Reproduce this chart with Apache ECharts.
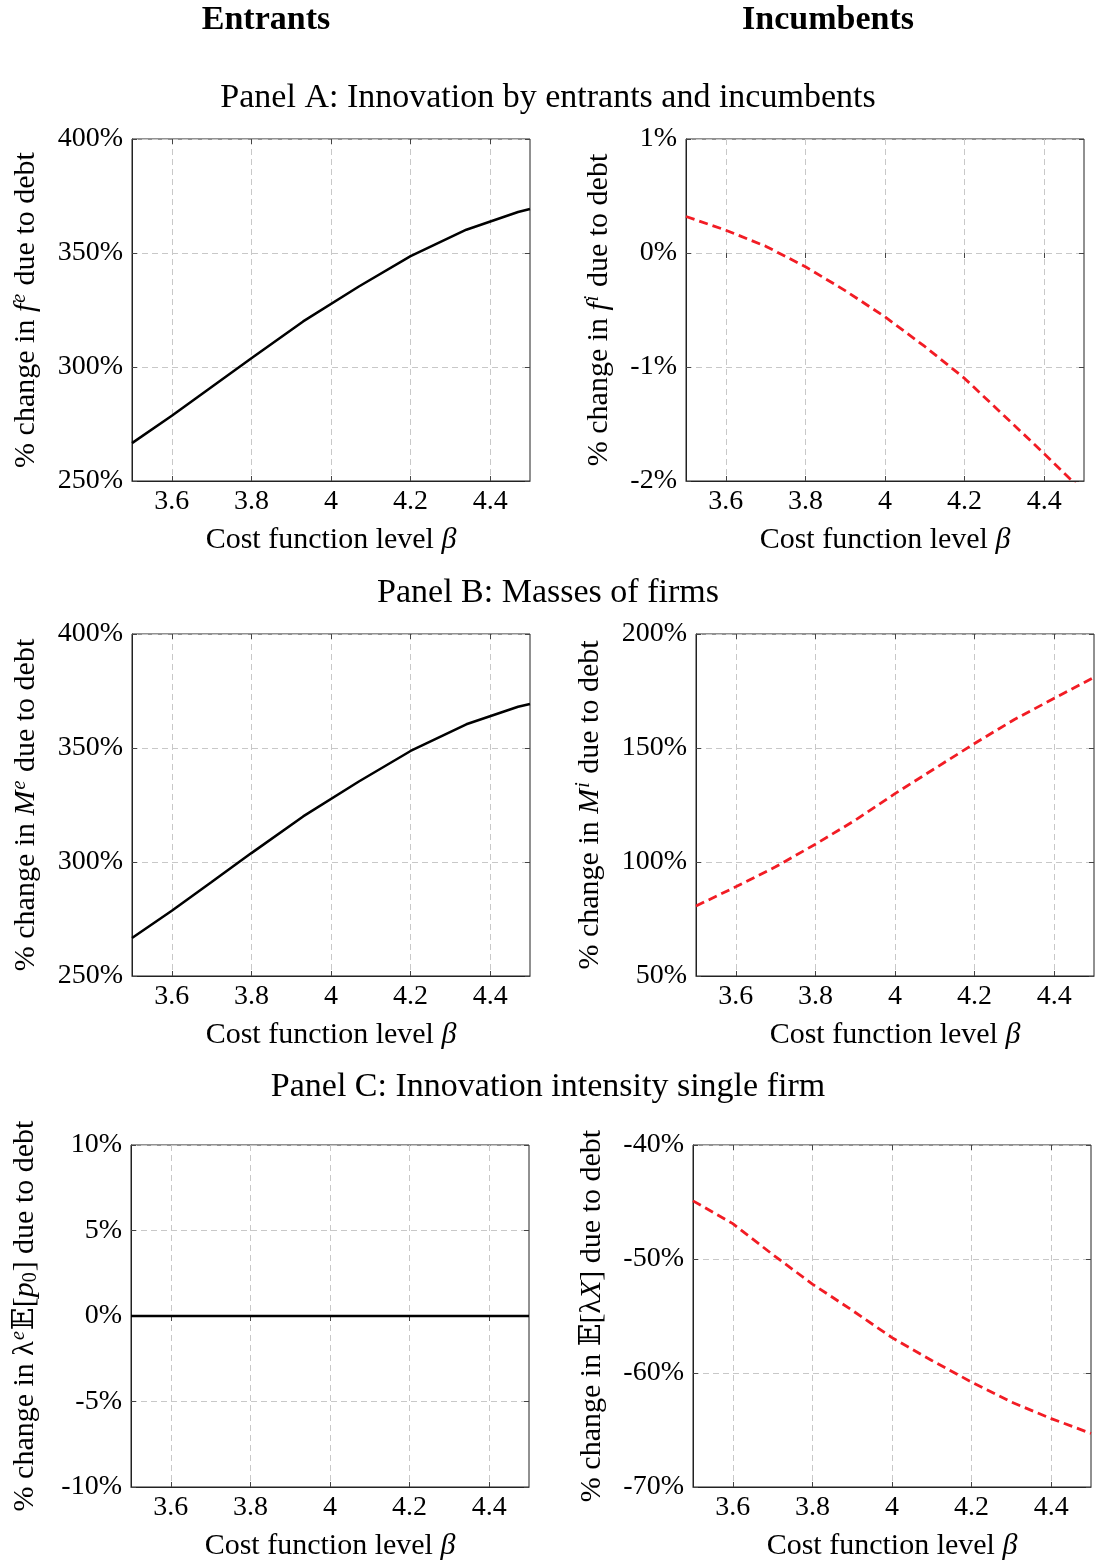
<!DOCTYPE html>
<html>
<head>
<meta charset="utf-8">
<script src="https://cdn.jsdelivr.net/npm/echarts@6/dist/echarts.min.js"></script>
<style>html,body{margin:0;padding:0;background:#fff;}#c{width:1095px;height:1562px;}</style>
</head>
<body>
<div id="c"></div>
<script>
// ---- data ----
const betaEntrants = [3.5, 3.6, 3.7, 3.8, 3.93, 4.07, 4.2, 4.34, 4.47, 4.5];
const fEntrants = [266.6, 278.6, 291.2, 303.8, 320.0, 335.3, 348.6, 360.2, 368.0, 369.3];
const mEntrants = [266.7, 278.6, 291.2, 303.9, 320.0, 335.3, 348.7, 360.4, 368.1, 369.3];
const betaIncumbents = [3.5, 3.6, 3.7, 3.8, 3.9, 4.0, 4.1, 4.2, 4.3, 4.4, 4.5];
const fIncumbents = [0.32, 0.20, 0.06, -0.12, -0.33, -0.56, -0.82, -1.10, -1.43, -1.76, -2.10];
const mIncumbents = [80.7, 89.1, 97.9, 107.8, 118.3, 130.0, 141.0, 152.0, 162.5, 171.8, 181.0];
const intensityEntrants = [0, 0, 0, 0, 0, 0, 0, 0, 0, 0, 0];
const intensityIncumbents = [-44.9, -46.9, -49.6, -52.2, -54.5, -56.9, -58.9, -60.8, -62.55, -64.0, -65.3];
const xTicks = [3.6, 3.8, 4, 4.2, 4.4];

const FONT = "'Liberation Serif', 'DejaVu Serif', serif";
const chart = echarts.init(document.getElementById('c'), null, {renderer: 'canvas'});

const NS = 30;
const richBase = {
  n: {fontFamily: FONT, fontSize: NS, color: '#000'},
  i: {fontFamily: FONT, fontSize: NS, fontStyle: 'italic', color: '#000'},
  s: {fontFamily: FONT, fontSize: 20, fontStyle: 'italic', color: '#000', verticalAlign: 'top', padding: [0, 1, 12, 1]},
  b: {fontFamily: FONT, fontSize: 20, color: '#000', verticalAlign: 'bottom', padding: [9, 1, 0, 0]}
};

const panels = [
  {rect: [132, 139], y: [250, 400, 50], name: '{n|% change in }{i|f}{s|e}{n| due to debt}', gap: 90, x: betaEntrants, v: fEntrants, red: false},
  {rect: [686, 139], y: [-2, 1, 1], name: '{n|% change in }{i|f}{s|i}{n| due to debt}', gap: 71, x: betaIncumbents, v: fIncumbents, red: true},
  {rect: [132, 634], y: [250, 400, 50], name: '{n|% change in }{i|M}{s|e}{n| due to debt}', gap: 90, x: betaEntrants, v: mEntrants, red: false},
  {rect: [696, 634], y: [50, 200, 50], name: '{n|% change in }{i|M}{s|i}{n| due to debt}', gap: 90, x: betaIncumbents, v: mIncumbents, red: true},
  {rect: [131, 1145], y: [-10, 10, 5], name: '{n|% change in λ}{s|e}{n|𝔼[}{i|p}{b|0}{n|] due to debt}', gap: 90, x: betaIncumbents, v: intensityEntrants, red: false},
  {rect: [693, 1145], y: [-70, -40, 10], name: '{n|% change in 𝔼[λ}{i|X}{n|] due to debt}', gap: 86, x: betaIncumbents, v: intensityIncumbents, red: true}
];

const W = 398, H = 342;
const grids = [], xAxes = [], yAxes = [], series = [];
const gridLine = {show: true, lineStyle: {color: '#c8c8c8', width: 1, type: [6, 4]}};

panels.forEach((p, k) => {
  grids.push({left: p.rect[0], top: p.rect[1], width: W, height: H, show: true, borderColor: '#222', borderWidth: 1, backgroundColor: 'transparent'});
  xAxes.push({
    type: 'value', gridIndex: k, min: 3.5, max: 4.5, position: 'bottom',
    name: '{n|Cost function level }{i|β}', nameLocation: 'middle', nameGap: 44,
    nameTextStyle: {rich: richBase},
    axisLine: {show: true, onZero: false, lineStyle: {color: '#222', width: 1}},
    axisTick: {show: true, inside: true, length: 5, customValues: xTicks, lineStyle: {color: '#444'}},
    axisLabel: {customValues: xTicks, fontFamily: FONT, fontSize: 28, color: '#000', margin: 7, formatter: v => String(v)},
    splitLine: gridLine
  });
  xAxes.push({
    type: 'value', gridIndex: k, min: 3.5, max: 4.5, position: 'top',
    axisLine: {show: false},
    axisTick: {show: true, inside: true, length: 5, customValues: xTicks, lineStyle: {color: '#444'}},
    axisLabel: {show: false}, splitLine: {show: false}
  });
  yAxes.push({
    type: 'value', gridIndex: k, min: p.y[0], max: p.y[1], interval: p.y[2], position: 'left',
    name: p.name, nameLocation: 'middle', nameGap: p.gap, nameRotate: 90,
    nameTextStyle: {rich: richBase},
    axisLine: {show: true, onZero: false, lineStyle: {color: '#222', width: 1}},
    axisTick: {show: true, inside: true, length: 5, lineStyle: {color: '#444'}},
    axisLabel: {fontFamily: FONT, fontSize: 28, color: '#000', margin: 9, formatter: v => v + '%'},
    splitLine: gridLine
  });
  yAxes.push({
    type: 'value', gridIndex: k, min: p.y[0], max: p.y[1], interval: p.y[2], position: 'right',
    axisLine: {show: false},
    axisTick: {show: true, inside: true, length: 5, lineStyle: {color: '#444'}},
    axisLabel: {show: false}, splitLine: {show: false}
  });
  series.push({
    type: 'line', xAxisIndex: 2 * k, yAxisIndex: 2 * k, showSymbol: false, symbol: 'none', clip: true,
    data: p.x.map((b, j) => [b, p.v[j]]),
    lineStyle: p.red ? {color: '#f21c24', width: 2.8, type: [9, 5]} : {color: '#000', width: 2.5},
    silent: true, animation: false
  });
});

const textStyleT = (txt, x, y, size, bold) => ({
  type: 'text', x: x, y: y,
  style: {text: txt, fontFamily: FONT, fontSize: size, fontWeight: bold ? 'bold' : 'normal', fill: '#000', textAlign: 'center', textVerticalAlign: 'middle'}
});

chart.setOption({
  animation: false,
  backgroundColor: '#fff',
  grid: grids, xAxis: xAxes, yAxis: yAxes, series: series,
  graphic: [
    textStyleT('Entrants', 266, 20, 34, true),
    textStyleT('Incumbents', 828, 20, 34, true),
    textStyleT('Panel A: Innovation by entrants and incumbents', 548, 98, 34, false),
    textStyleT('Panel B: Masses of firms', 548, 593, 34, false),
    textStyleT('Panel C: Innovation intensity single firm', 548, 1087, 34, false)
  ]
});
</script>
</body>
</html>
